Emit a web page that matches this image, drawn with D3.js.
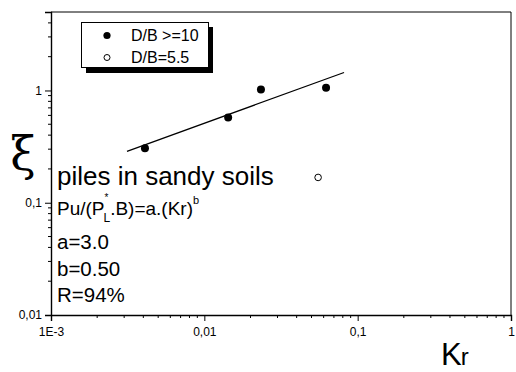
<!DOCTYPE html>
<html><head><meta charset="utf-8">
<script src="https://cdn.jsdelivr.net/npm/d3@7"></script>
<style>body{margin:0;background:#fff}svg{display:block;font-family:"Liberation Sans",Arial,sans-serif}</style>
</head><body><svg id="c" width="516" height="372"></svg>
<script>
const krDeep = [0.0041, 0.0143, 0.0234, 0.0622];
const xiDeep = [0.305, 0.575, 1.02, 1.06];
const krShallow = [0.0552];
const xiShallow = [0.168];
const fitKr = [0.00313, 0.0815];
const fitXi = [0.287, 1.445];
const xTickVals = [0.001, 0.01, 0.1, 1];
const xTickLabels = ["1E-3", "0,01", "0,1", "1"];
const yTickVals = [0.01, 0.1, 1];
const yTickLabels = ["0,01", "0,1", "1"];
const legendLabels = ["D/B >=10", "D/B=5.5"];

const svg = d3.select("#c");
const L = 51, R = 511, T = 12, B = 315;
const x = d3.scaleLog().domain([0.001, 1]).range([L, R]);
const y = d3.scaleLog().domain([0.01, 5]).range([B, T]);

// minor ticks
const minorX = [], minorY = [];
[0.001, 0.01, 0.1].forEach(d => { for (let k = 2; k <= 9; k++) minorX.push(d * k); });
[0.01, 0.1].forEach(d => { for (let k = 2; k <= 9; k++) minorY.push(d * k); });
[2, 3, 4].forEach(k => minorY.push(k));

const xAxis = d3.axisBottom(x).tickValues(xTickVals).tickSize(6).tickPadding(4)
  .tickFormat((d, i) => xTickLabels[i]);
const gx = svg.append("g").attr("transform", `translate(0,${B})`).call(xAxis);
gx.append("g").selectAll("line").data(minorX).join("line")
  .attr("x1", d => x(d)).attr("x2", d => x(d)).attr("y1", 0).attr("y2", 3).attr("stroke", "#000");

const yAxis = d3.axisLeft(y).tickValues(yTickVals).tickSize(6).tickPadding(3)
  .tickFormat((d, i) => yTickLabels[i]);
const gy = svg.append("g").attr("transform", `translate(${L},0)`).call(yAxis);
gy.append("g").selectAll("line").data(minorY).join("line")
  .attr("y1", d => y(d)).attr("y2", d => y(d)).attr("x1", 0).attr("x2", -3).attr("stroke", "#000");

[gx, gy].forEach(g => {
  g.attr("font-size", 12).attr("font-family", '"Liberation Sans",Arial,sans-serif');
  g.select(".domain").attr("stroke", "#000").attr("stroke-width", 1.4);
  g.selectAll(".tick line").attr("stroke", "#000");
  g.selectAll(".tick text").attr("fill", "#000");
});
gx.selectAll(".tick text").attr("dy", "0.9em");

// frame top/right
svg.append("line").attr("x1", L).attr("x2", R).attr("y1", T).attr("y2", T).attr("stroke", "#000");
svg.append("line").attr("x1", R).attr("x2", R).attr("y1", T).attr("y2", B).attr("stroke", "#000");

// fit line
svg.append("path").datum(fitKr.map((k, i) => [k, fitXi[i]]))
  .attr("d", d3.line().x(d => x(d[0])).y(d => y(d[1])))
  .attr("stroke", "#000").attr("stroke-width", 1.2).attr("fill", "none");

// points
svg.append("g").selectAll("circle").data(krDeep.map((k, i) => [k, xiDeep[i]])).join("circle")
  .attr("cx", d => x(d[0])).attr("cy", d => y(d[1])).attr("r", 4).attr("fill", "#000");
svg.append("g").selectAll("circle").data(krShallow.map((k, i) => [k, xiShallow[i]])).join("circle")
  .attr("cx", d => x(d[0])).attr("cy", d => y(d[1])).attr("r", 3.3)
  .attr("fill", "#fff").attr("stroke", "#000").attr("stroke-width", 1);

// legend
const lg = svg.append("g");
lg.append("rect").attr("x", 86).attr("y", 27).attr("width", 127).attr("height", 46).attr("fill", "#000");
lg.append("rect").attr("x", 81.5).attr("y", 22.5).attr("width", 127).attr("height", 45)
  .attr("fill", "#fff").attr("stroke", "#000").attr("stroke-width", 1);
legendLabels.forEach((t, i) => {
  const cy = 35.5 + i * 22;
  lg.append("circle").attr("cx", 107).attr("cy", cy).attr("r", i === 0 ? 3.6 : 3)
    .attr("fill", i === 0 ? "#000" : "#fff").attr("stroke", "#000").attr("stroke-width", i === 0 ? 0 : 1);
  lg.append("text").attr("x", 131).attr("y", cy + 5.5).attr("font-size", 16).text(t);
});

// annotations
svg.append("text").attr("x", 57).attr("y", 185).attr("font-size", 26).text("piles in sandy soils");
const eq = svg.append("text").attr("x", 57).attr("y", 215).attr("font-size", 19);
eq.append("tspan").text("Pu/(P");
eq.append("tspan").attr("font-size", 10).attr("dy", -14).attr("dx", 0).text("*");
eq.append("tspan").attr("font-size", 12).attr("dy", 21).attr("dx", -5).text("L");
eq.append("tspan").attr("dy", -7).text(".B)=a.(Kr)");
eq.append("tspan").attr("font-size", 11).attr("dy", -11).text("b");
["a=3.0", "b=0.50", "R=94%"].forEach((t, i) => {
  svg.append("text").attr("x", 57).attr("y", 249 + i * 26.5).attr("font-size", 20.5).text(t);
});

// axis titles
svg.append("text").attr("x", 23).attr("y", 170).attr("text-anchor", "middle")
  .attr("font-size", 46).attr("font-family", '"DejaVu Serif",serif').text("ξ");
const kr = svg.append("text").attr("x", 441).attr("y", 365).attr("font-size", 31);
kr.append("tspan").text("K");
kr.append("tspan").attr("font-size", 24).attr("dx", -1).text("r");
</script></body></html>
